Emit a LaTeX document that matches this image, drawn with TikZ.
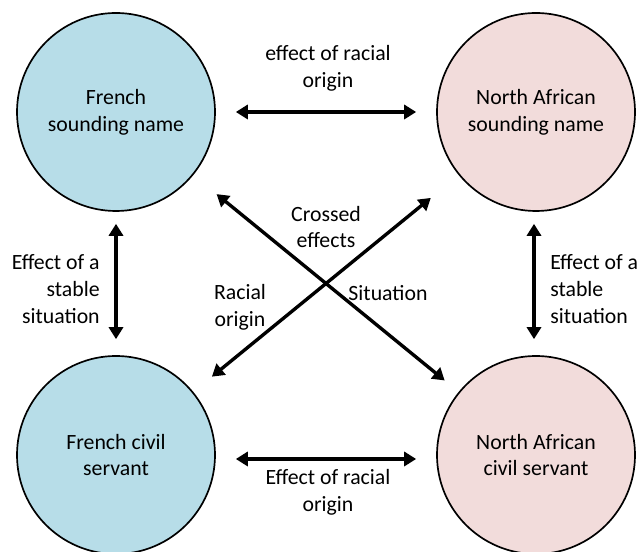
\documentclass[tikz,border=0pt]{standalone}
\usepackage{fontspec}
\setmainfont{Carlito}
\usepackage{xcolor}
\usepackage{tikz}
\usetikzlibrary{arrows.meta, positioning}

\definecolor{frblue}{HTML}{B7DDE8}
\definecolor{napink}{HTML}{F2DCDB}

\tikzset{
    txt/.style={font=\fontsize{15.5pt}{19pt}\selectfont, align=center, inner sep=0pt},
    bubble/.style={circle, draw=black, line width=1.2pt, minimum size=4.95cm, txt},
    biarrow/.style={line width=2.4pt, {Triangle[length=8.5pt,width=10pt]}-{Triangle[length=8.5pt,width=10pt]}}
}

\begin{document}
\begin{tikzpicture}
        \useasboundingbox (0,0) rectangle (16.1,13.8);

        % Circles
        \node[bubble, fill=frblue] (fsn) at (2.9,11.0) {French\\sounding name};
        \node[bubble, fill=napink] (nasn) at (13.4,11.0) {North African\\sounding name};
        \node[bubble, fill=frblue] (fcs) at (2.9,2.425) {French civil\\servant};
        \node[bubble, fill=napink] (nacs) at (13.4,2.425) {North African\\civil servant};

        % Horizontal effects
        \draw[biarrow, shorten <=0.5cm, shorten >=0.5cm] (fsn) -- (nasn);
        \node[txt] (toplbl) at (8.2,12.1) {effect of racial\\origin};
        \draw[biarrow, shorten <=0.5cm, shorten >=0.5cm] ([yshift=-0.1cm]fcs.east) -- ([yshift=-0.1cm]nacs.west);
        \node[txt] (botlbl) at (8.2,1.5) {Effect of racial\\origin};

        % Vertical effects
        \draw[biarrow, shorten <=0.3cm, shorten >=0.4cm] (fsn) -- (fcs);
        \node[txt, align=right, anchor=east] (leftlbl) at (2.5,6.575) {Effect of a\\stable\\situation};
        \draw[biarrow, shorten <=0.3cm, shorten >=0.4cm] ([xshift=-0.05cm]nasn.south) -- ([xshift=-0.05cm]nacs.north);
        \node[txt, align=left, anchor=west] (rightlbl) at (13.75,6.575) {Effect of a\\stable\\situation};

        % Crossed effects
        \draw[biarrow, shorten <=0.75cm, shorten >=0.45cm] (fsn) -- (nacs);
        \draw[biarrow, shorten <=0.6cm, shorten >=0.9cm] (fcs) -- (nasn);
        \node[txt] (crosslbl) at (8.15,8.125) {Crossed\\effects};
        \node[txt] (raclbl) at (6.0,6.125) {Racial\\origin};
        \node[txt] (sitlbl) at (9.7,6.475) {Situation};

    \end{tikzpicture}
\end{document}
